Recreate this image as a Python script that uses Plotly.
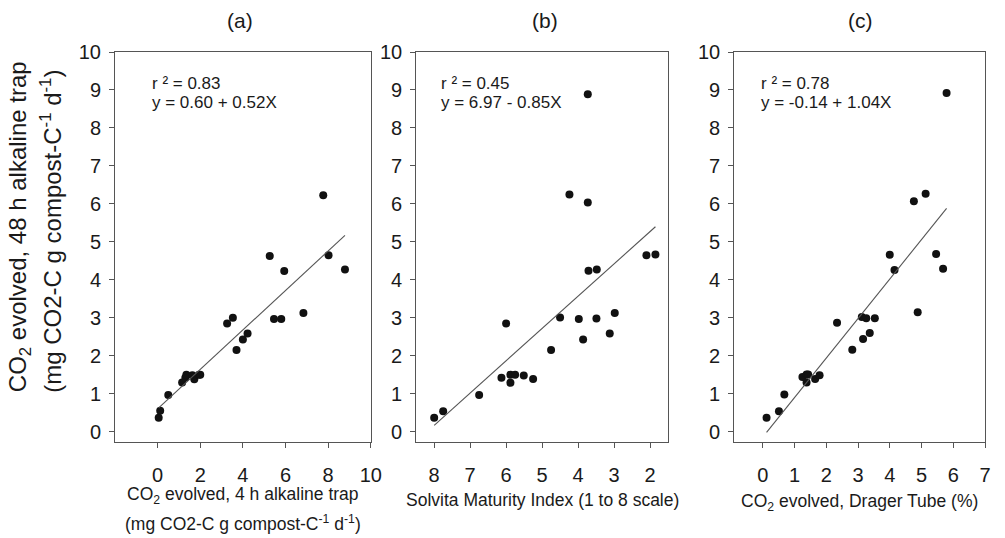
import plotly.graph_objects as go

# ---------------- data ----------------
a_x = [0.05, 0.12, 0.5, 1.15, 1.3, 1.35, 1.63, 1.72, 1.94, 2.0, 3.26, 3.53, 3.7, 4.0, 4.22,
       5.26, 5.46, 5.8, 5.94, 6.84, 7.77, 8.02, 8.79]
a_y = [0.37, 0.55, 0.97, 1.30, 1.42, 1.50, 1.49, 1.38, 1.50, 1.50, 2.85, 3.0, 2.15, 2.43, 2.59,
       4.63, 2.97, 2.97, 4.23, 3.13, 6.23, 4.65, 4.27]

b_x = [8.0, 7.75, 6.75, 6.13, 6.0, 5.88, 5.88, 5.75, 5.51, 5.25, 4.75, 4.5, 4.24, 3.98, 3.86,
       3.73, 3.73, 3.71, 3.48, 3.49, 3.12, 2.98, 2.10, 1.85]
b_y = [0.37, 0.54, 0.97, 1.42, 2.85, 1.29, 1.50, 1.50, 1.48, 1.39, 2.15, 3.01, 6.25, 2.97, 2.43,
       8.89, 6.04, 4.24, 4.27, 2.98, 2.59, 3.13, 4.65, 4.67]

c_x = [0.12, 0.51, 0.68, 1.25, 1.38, 1.43, 1.38, 1.65, 1.79, 2.34, 2.82, 3.12, 3.26, 3.53, 3.16,
       3.37, 4.0, 4.15, 4.76, 4.88, 5.13, 5.46, 5.68, 5.79]
c_y = [0.37, 0.54, 0.98, 1.44, 1.51, 1.51, 1.30, 1.39, 1.49, 2.87, 2.16, 3.02, 2.99, 2.99, 2.44,
       2.60, 4.66, 4.26, 6.07, 3.15, 6.27, 4.68, 4.29, 8.92]

intercepts = [0.60, 6.97, -0.14]
slopes = [0.52, -0.85, 1.04]
r2_labels = ["r \u00b2 = 0.83", "r \u00b2 = 0.45", "r \u00b2 = 0.78"]
eq_labels = ["y = 0.60 + 0.52X", "y = 6.97 - 0.85X", "y = -0.14 + 1.04X"]
panel_labels = ["(a)", "(b)", "(c)"]
x_title_lines = [["CO<sub>2</sub> evolved, 4 h alkaline trap",
                  "(mg CO2-C g compost-C<sup>-1</sup> d<sup>-1</sup>)"],
                 ["Solvita Maturity Index (1 to 8 scale)"],
                 ["CO<sub>2</sub> evolved, Drager Tube (%)"]]
y_title_1 = "CO<sub>2</sub> evolved, 48 h alkaline trap"
y_title_2 = "(mg CO2-C g compost-C<sup>-1</sup> d<sup>-1</sup>)"

a_ticks = [0, 2, 4, 6, 8, 10]
b_ticks = [8, 7, 6, 5, 4, 3, 2]
c_ticks = [0, 1, 2, 3, 4, 5, 6, 7]
y_ticks = [0, 1, 2, 3, 4, 5, 6, 7, 8, 9, 10]

# ---------------- figure ----------------
W, H = 1005, 538
ML, MR, MT, MB = 115, 9, 52, 96
PW = W - ML - MR
PH = H - MT - MB

def px2fx(px):
    return (px - ML) / PW

def py2fy(py):
    return (H - MB - py) / PH

domains = [[px2fx(115), px2fx(374)], [px2fx(420), px2fx(675)], [px2fx(742), px2fx(996)]]
xranges = [[-2, 10], [8.5, 1.5], [-0.9, 7.0]]
xticks = [a_ticks, b_ticks, c_ticks]
xs = [a_x, b_x, c_x]
ys = [a_y, b_y, c_y]

FONT = "Liberation Sans, Arial, sans-serif"
TXT = "#1a1a1a"
fig = go.Figure()

for i in range(3):
    xa = "x" if i == 0 else f"x{i+1}"
    ya = "y" if i == 0 else f"y{i+1}"
    fig.add_trace(go.Scatter(x=xs[i], y=ys[i], mode="markers", xaxis=xa, yaxis=ya,
                             marker=dict(color="#111111", size=8), showlegend=False))
    lx = [min(xs[i]), max(xs[i])]
    ly = [intercepts[i] + slopes[i] * v for v in lx]
    fig.add_trace(go.Scatter(x=lx, y=ly, mode="lines", xaxis=xa, yaxis=ya,
                             line=dict(color="#555555", width=1.1), showlegend=False))

axis_common = dict(showline=True, mirror=True, linecolor="#555555", linewidth=1,
                   ticks="outside", ticklen=5, tickcolor="#555555", showgrid=False,
                   zeroline=False, tickfont=dict(family=FONT, size=20, color=TXT))

layout = dict(width=W, height=H, margin=dict(l=ML, r=MR, t=MT, b=MB),
              paper_bgcolor="white", plot_bgcolor="white", font=dict(family=FONT, color=TXT))
for i in range(3):
    xk = "xaxis" if i == 0 else f"xaxis{i+1}"
    yk = "yaxis" if i == 0 else f"yaxis{i+1}"
    layout[xk] = dict(axis_common, domain=domains[i], range=xranges[i], tickvals=xticks[i],
                      anchor="y" if i == 0 else f"y{i+1}", ticklabelstandoff=10)
    layout[yk] = dict(axis_common, domain=[0, 1], range=[-0.27, 10], tickvals=y_ticks,
                      anchor="x" if i == 0 else f"x{i+1}", ticklabelstandoff=4)
fig.update_layout(**layout)

annos = []
r2_pos = [0.135, 0.091, 0.10]
title_px = [242, 550, 870]
xtitle_px = [245, 548, 869]
xtitle_py = [[495, 523], [500], [503]]
for i in range(3):
    xr = "x domain" if i == 0 else f"x{i+1} domain"
    annos.append(dict(text=r2_labels[i], x=r2_pos[i], y=py2fy(83), xref=xr, yref="paper",
                      xanchor="left", yanchor="middle", showarrow=False,
                      font=dict(family=FONT, size=17, color=TXT)))
    annos.append(dict(text=eq_labels[i], x=r2_pos[i], y=py2fy(102), xref=xr, yref="paper",
                      xanchor="left", yanchor="middle", showarrow=False,
                      font=dict(family=FONT, size=17, color=TXT)))
    annos.append(dict(text=panel_labels[i], x=px2fx(title_px[i]), y=py2fy(20), xref="paper", yref="paper",
                      xanchor="center", yanchor="middle", showarrow=False,
                      font=dict(family=FONT, size=21, color=TXT)))
    for line, ypx in zip(x_title_lines[i], xtitle_py[i]):
        annos.append(dict(text=line, x=px2fx(xtitle_px[i]), y=py2fy(ypx), xref="paper", yref="paper",
                          xanchor="center", yanchor="middle", showarrow=False,
                          font=dict(family=FONT, size=17.5, color=TXT)))

annos.append(dict(text=y_title_1, x=px2fx(19), y=py2fy(227), xref="paper", yref="paper",
                  xanchor="center", yanchor="middle", textangle=-90, showarrow=False,
                  font=dict(family=FONT, size=24, color=TXT)))
annos.append(dict(text=y_title_2, x=px2fx(50), y=py2fy(231), xref="paper", yref="paper",
                  xanchor="center", yanchor="middle", textangle=-90, showarrow=False,
                  font=dict(family=FONT, size=24, color=TXT)))
fig.update_layout(annotations=annos)

fig.write_html("out.html", config={"displayModeBar": False},
               post_script="document.body.style.margin='0';document.body.style.padding='0';")
